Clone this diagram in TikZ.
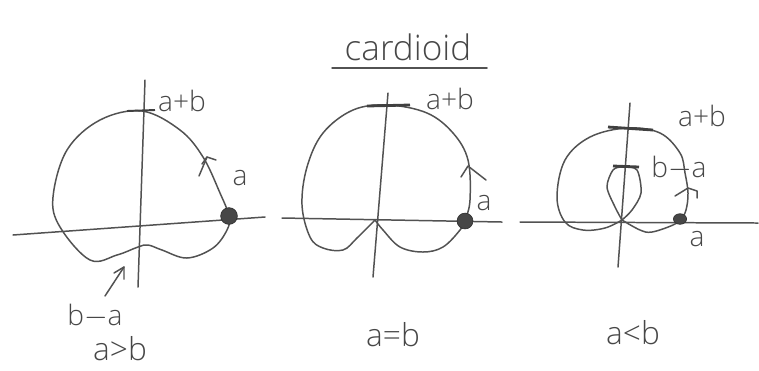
\documentclass[tikz,border=0pt]{standalone}
\usepackage{fontspec}
\usetikzlibrary{shapes.geometric}
\setmainfont{Open Sans Light}[BoldFont=Open Sans]
\begin{document}
\begin{tikzpicture}[x=0.02cm,y=-0.02cm,
  ink/.style={draw=black!68, line width=0.85pt, line cap=round, line join=round},
  axisline/.style={ink},
  curveline/.style={ink},
  tickmark/.style={draw=black!75, line width=1.6pt},
  lbl/.style={text=black!72, font=\fontsize{16}{18}\selectfont, inner sep=0pt},
  caplbl/.style={lbl, font=\fontsize{18}{20}\selectfont},
  blob/.style={circle, fill=black!72, draw=black!80, inner sep=0pt, minimum size=9pt},
  chev/.style={ink}]
\useasboundingbox (0,0) rectangle (759,370);

% ---------- title ----------
\node[lbl, font=\fontsize{20}{22}\selectfont] (title) at (408,47) {cardioid};
\coordinate (ulA) at (332,68);
\coordinate (ulB) at (487,68);
\draw[ink] (ulA) -- (ulB);

% ---------- panel 1: a>b ----------
\coordinate (h1a) at (13,235);
\coordinate (h1b) at (265,217);
\coordinate (v1a) at (145,80);
\coordinate (v1b) at (138,287);
\draw[axisline] (h1a) -- (h1b);
\draw[axisline] (v1a) -- (v1b);
\draw[curveline] plot[smooth cycle, tension=0.6] coordinates {
 (229,216) (220,193) (203,157) (180,130) (142,111) (100,120) (67,150)
 (53,197) (60,227) (90,260) (117,255) (138,247) (148,245) (162,250)
 (187,258) (213,248) (227,230)};
\coordinate (t1a) at (127,111);
\coordinate (t1b) at (155,110);
\draw[tickmark, line width=1.1pt] (t1a) -- (t1b);
\node[blob, minimum size=9.5pt] (dot1) at (229,216) {};
\node[lbl] (apb1) at (182,101) {a+b};
\node[lbl] (a1) at (240,178) {a};
\coordinate (ar1s) at (199,176);
\coordinate (ar1e) at (207,157);
\coordinate (ar1l) at (202,164);
\coordinate (ar1r) at (216,160);
\draw[ink] (ar1s) -- (ar1e);
\draw[ink] (ar1l) -- (ar1e) -- (ar1r);
\node[lbl] (bma1) at (95,316) {b$-$a};
\coordinate (ar2s) at (105,296);
\coordinate (ar2e) at (124,267);
\coordinate (ar2l) at (114,273);
\coordinate (ar2r) at (124,279);
\draw[ink] (ar2s) -- (ar2e);
\draw[ink] (ar2l) -- (ar2e) -- (ar2r);
\node[caplbl] (cap1) at (120,349) {a>b};

% ---------- panel 2: a=b ----------
\coordinate (h2a) at (282,218);
\coordinate (h2b) at (502,222);
\coordinate (v2a) at (388,93);
\coordinate (v2b) at (373,277);
\draw[axisline] (h2a) -- (h2b);
\draw[axisline] (v2a) -- (v2b);
\draw[curveline] plot[smooth, tension=0.6] coordinates {
 (375,220) (383,230) (400,247) (423,252) (443,247) (460,230) (465,220)
 (470,200) (468,160) (453,133) (427,113) (388,105) (353,110) (323,133)
 (307,167) (302,205) (310,237) (323,248) (343,250) (357,238) (375,220)};
\coordinate (t2a) at (367,106);
\coordinate (t2b) at (410,105);
\draw[tickmark] (t2a) -- (t2b);
\node[blob] (dot2) at (465,221) {};
\node[lbl] (apb2) at (450,99) {a+b};
\node[lbl] (a2) at (484,203) {a};
\coordinate (c2) at (468,166);
\coordinate (c2l) at (461,177);
\coordinate (c2r) at (486,180);
\draw[chev] (c2l) -- (c2) -- (c2r);
\node[caplbl] (cap2) at (393,335) {a=b};

% ---------- panel 3: a<b ----------
\coordinate (h3a) at (520,222);
\coordinate (h3b) at (758,223);
\coordinate (v3a) at (630,103);
\coordinate (v3b) at (618,267);
\draw[axisline] (h3a) -- (h3b);
\draw[axisline] (v3a) -- (v3b);
% inner loop
\draw[curveline] plot[smooth, tension=0.5] coordinates {
 (622,220) (615,207) (607,187) (613,170) (623,167) (637,170)
 (641,193) (632,210) (622,220)};
% outer loop
\draw[curveline] plot[smooth, tension=0.6] coordinates {
 (622,220) (640,230) (652,232) (673,225) (681,219) (686,210) (688,193)
 (685,173) (680,153) (660,133) (627,128) (590,137) (565,160) (557,197)
 (565,222) (583,230) (605,228) (622,220)};
\coordinate (t3a) at (608,127);
\coordinate (t3b) at (653,130);
\draw[tickmark] (t3a) -- (t3b);
\coordinate (t4a) at (613,166);
\coordinate (t4b) at (639,167);
\draw[tickmark] (t4a) -- (t4b);
\node[blob, ellipse, minimum width=7.5pt, minimum height=6pt] (dot3) at (680,219) {};
\node[lbl] (apb3) at (702,116) {a+b};
\node[lbl] (bma3) at (679,168) {b$-$a};
\node[lbl] (a3) at (697,239) {a};
\coordinate (c3) at (688,188);
\coordinate (c3l) at (675,196);
\coordinate (c3r) at (697,191);
\coordinate (c3s) at (697,198);
\draw[chev] (c3l) -- (c3) -- (c3r) -- (c3s);
\node[caplbl] (cap3) at (633,333) {a<b};
\end{tikzpicture}
\end{document}
